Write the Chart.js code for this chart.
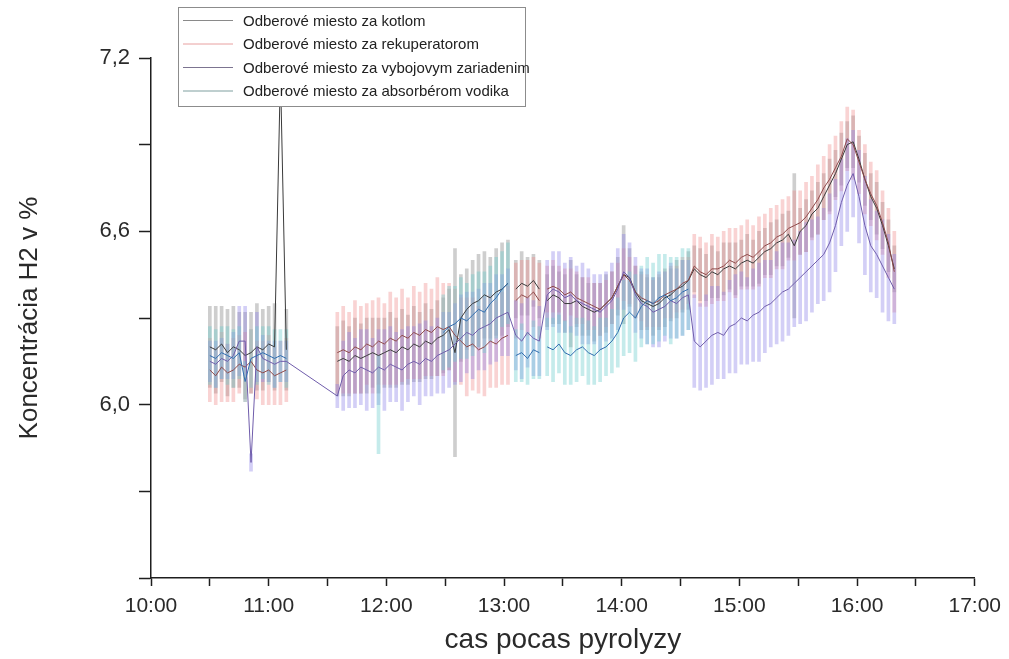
<!DOCTYPE html>
<html>
<head>
<meta charset="utf-8">
<script src="https://cdn.jsdelivr.net/npm/chart.js@4.4.1/dist/chart.umd.min.js"></script>
<style>
  body { margin: 0; background: #fff; }
  canvas { display: block; }
</style>
</head>
<body>
<canvas id="graph" width="1009" height="659"></canvas>
<script>
// cas merania (kazde 3 minuty, prazdne riadky = prerusenie merania)
const casy = [
  "10:30","10:33","10:36","10:39","10:42","10:45","10:48","10:51","10:54","10:57","11:00","11:03","11:06","11:09",
  "11:20",
  "11:35","11:38","11:41","11:44","11:47","11:50","11:53","11:56","11:59","12:02","12:05","12:08","12:11","12:14","12:17",
  "12:20","12:23","12:26","12:29","12:32","12:35","12:38","12:41","12:44","12:47","12:50","12:53","12:56","12:59","13:02",
  "13:04",
  "13:06","13:09","13:12","13:15","13:18",
  "13:20",
  "13:22","13:25","13:28","13:31","13:34","13:37","13:40","13:43","13:46","13:49","13:52","13:55","13:58",
  "14:01","14:04","14:07","14:10","14:13","14:16","14:19","14:22","14:25","14:28","14:31","14:34",
  "14:37","14:40","14:43","14:46","14:49","14:52","14:55","14:58",
  "15:01","15:04","15:07","15:10","15:13","15:16","15:19","15:22","15:25","15:28","15:31","15:34","15:37","15:40",
  "15:43","15:46","15:49","15:52","15:55","15:58",
  "16:01","16:04","16:07","16:10","16:13","16:16","16:19"
];

const kotlom = [
  6.20,6.19,6.21,6.18,6.20,6.19,6.17,6.18,6.20,6.19,6.21,6.20,7.15,6.19,
  null,
  6.15,6.16,6.15,6.17,6.16,6.17,6.18,6.17,6.18,6.19,6.18,6.20,6.19,6.21,6.20,
  6.22,6.21,6.23,6.24,6.26,6.18,6.30,6.33,6.35,6.36,6.38,6.37,6.39,6.40,6.42,
  null,
  6.40,6.42,6.41,6.43,6.40,
  null,
  6.36,6.38,6.37,6.35,6.35,6.36,6.34,6.33,6.32,6.33,6.35,6.37,6.41,
  6.45,6.44,6.39,6.36,6.35,6.34,6.35,6.37,6.38,6.40,6.41,6.43,
  6.47,6.45,6.44,6.46,6.45,6.47,6.48,6.47,
  6.49,6.50,6.49,6.51,6.53,6.54,6.56,6.57,6.59,6.55,6.60,6.62,6.66,6.68,
  6.72,6.76,6.80,6.85,6.90,6.91,
  6.85,6.78,6.72,6.68,6.62,6.55,6.47
];
const kotlomErr = [
  0.14,0.15,0.13,0.15,0.14,0.13,0.15,0.14,0.15,0.14,0.13,0.15,0.02,0.14,
  null,
  0.12,0.13,0.12,0.13,0.12,0.13,0.12,0.13,0.12,0.13,0.12,0.13,0.12,0.13,0.12,
  0.13,0.12,0.13,0.13,0.14,0.36,0.15,0.14,0.15,0.16,0.15,0.14,0.15,0.16,0.15,
  null,
  0.10,0.11,0.10,0.09,0.10,
  null,
  0.09,0.10,0.09,0.10,0.15,0.09,0.10,0.09,0.10,0.09,0.10,0.09,0.10,
  0.17,0.10,0.09,0.10,0.09,0.10,0.09,0.10,0.09,0.10,0.09,0.10,
  0.08,0.09,0.08,0.09,0.08,0.09,0.08,0.09,
  0.08,0.09,0.08,0.09,0.08,0.09,0.08,0.09,0.08,0.25,0.08,0.09,0.08,0.09,
  0.08,0.09,0.08,0.09,0.08,0.09,
  0.08,0.09,0.08,0.09,0.08,0.09,0.08
];

const rekuperator = [
  6.12,6.10,6.13,6.11,6.12,6.14,6.13,6.15,6.12,6.11,6.12,6.10,6.11,6.12,
  null,
  6.18,6.19,6.18,6.20,6.19,6.21,6.20,6.22,6.21,6.23,6.22,6.24,6.23,6.25,6.24,
  6.26,6.25,6.27,6.26,6.27,6.24,6.22,6.20,6.21,6.19,6.20,6.22,6.21,6.23,6.24,
  null,
  6.36,6.38,6.37,6.39,6.36,
  null,
  6.40,6.41,6.40,6.38,6.39,6.37,6.36,6.35,6.34,6.33,6.35,6.37,6.41,
  6.45,6.43,6.39,6.37,6.36,6.35,6.36,6.38,6.39,6.40,6.42,6.43,
  6.48,6.46,6.45,6.47,6.47,6.48,6.50,6.49,
  6.51,6.52,6.51,6.53,6.55,6.56,6.58,6.59,6.61,6.62,6.63,6.65,6.68,6.71,
  6.75,6.78,6.82,6.86,6.92,6.90,
  6.84,6.78,6.73,6.69,6.63,6.56,6.46
];
const rekuperatorErr = [
  0.11,0.10,0.12,0.10,0.11,0.10,0.12,0.11,0.10,0.11,0.12,0.10,0.11,0.11,
  null,
  0.14,0.15,0.14,0.16,0.15,0.14,0.16,0.15,0.14,0.16,0.15,0.16,0.14,0.16,0.15,
  0.16,0.15,0.17,0.16,0.15,0.16,0.15,0.17,0.16,0.15,0.17,0.16,0.15,0.16,0.17,
  null,
  0.13,0.12,0.13,0.12,0.13,
  null,
  0.08,0.09,0.08,0.09,0.08,0.09,0.08,0.09,0.08,0.09,0.08,0.09,0.08,
  0.09,0.08,0.09,0.08,0.09,0.08,0.09,0.08,0.09,0.08,0.09,0.08,
  0.11,0.12,0.11,0.12,0.11,0.12,0.11,0.12,
  0.11,0.12,0.11,0.12,0.11,0.12,0.11,0.12,0.11,0.12,0.11,0.12,0.11,0.12,
  0.11,0.12,0.11,0.12,0.11,0.12,
  0.11,0.12,0.11,0.12,0.11,0.12,0.14
];

const vyboj = [
  6.15,6.14,6.16,6.15,6.17,6.22,6.22,5.80,6.20,6.16,6.15,6.14,6.15,6.15,
  null,
  6.03,6.10,6.12,6.11,6.13,6.12,6.11,6.13,6.12,6.14,6.13,6.12,6.14,6.15,6.14,
  6.16,6.15,6.17,6.18,6.19,6.21,6.23,6.25,6.24,6.26,6.27,6.28,6.30,6.31,6.32,
  null,
  6.24,6.22,6.25,6.23,6.22,
  null,
  6.38,6.40,6.39,6.37,6.38,6.36,6.35,6.34,6.33,6.32,6.34,6.36,6.40,
  6.46,6.44,6.38,6.35,6.34,6.32,6.33,6.34,6.36,6.35,6.37,6.38,
  6.22,6.20,6.22,6.24,6.25,6.24,6.27,6.28,
  6.30,6.29,6.31,6.32,6.34,6.35,6.37,6.39,6.40,6.42,6.44,6.46,6.48,6.50,
  6.52,6.56,6.62,6.70,6.76,6.80,
  6.72,6.62,6.55,6.52,6.48,6.44,6.40
];
const vybojErr = [
  0.07,0.08,0.07,0.06,0.08,0.12,0.12,0.03,0.12,0.08,0.07,0.08,0.07,0.07,
  null,
  0.04,0.12,0.13,0.12,0.13,0.14,0.12,0.13,0.14,0.13,0.12,0.14,0.13,0.12,0.14,
  0.13,0.12,0.13,0.14,0.13,0.14,0.15,0.14,0.15,0.14,0.15,0.14,0.15,0.14,0.15,
  null,
  0.12,0.13,0.12,0.13,0.12,
  null,
  0.12,0.13,0.14,0.12,0.13,0.12,0.14,0.13,0.12,0.13,0.12,0.13,0.14,
  0.13,0.12,0.13,0.12,0.13,0.12,0.13,0.12,0.13,0.12,0.13,0.12,
  0.16,0.15,0.16,0.17,0.16,0.15,0.16,0.17,
  0.16,0.15,0.16,0.17,0.16,0.15,0.16,0.17,0.16,0.15,0.16,0.17,0.16,0.15,
  0.16,0.17,0.16,0.15,0.16,0.15,
  0.16,0.17,0.16,0.15,0.16,0.15,0.12
];

const absorber = [
  6.17,6.16,6.18,6.17,6.16,6.18,6.08,6.16,6.17,6.18,6.17,6.16,6.17,6.16,
  null,
  null,null,null,null,null,null,null,6.00,null,null,null,null,null,null,null,
  null,null,null,6.25,6.27,6.28,6.30,6.29,6.31,6.33,6.32,6.35,6.37,6.40,6.42,
  null,
  6.17,6.18,6.16,6.19,6.18,
  null,
  6.20,6.19,6.21,6.18,6.17,6.19,6.20,6.18,6.17,6.19,6.20,6.22,6.25,
  6.30,6.32,6.30,6.34,6.36,6.35,6.37,6.38,6.36,6.37,6.39,6.40,
  ...Array(35).fill(null)
];
const absorberErr = [
  0.10,0.10,0.09,0.10,0.10,0.09,0.07,0.10,0.10,0.09,0.10,0.10,0.09,0.10,
  null,
  null,null,null,null,null,null,null,0.17,null,null,null,null,null,null,null,
  null,null,null,0.13,0.14,0.13,0.14,0.13,0.14,0.13,0.14,0.13,0.14,0.13,0.14,
  null,
  0.09,0.10,0.09,0.10,0.09,
  null,
  0.10,0.11,0.10,0.11,0.10,0.11,0.10,0.11,0.10,0.11,0.10,0.11,0.12,
  0.13,0.14,0.15,0.14,0.15,0.14,0.15,0.14,0.15,0.14,0.15,0.14,
  ...Array(35).fill(null)
];

const serie = [
  { nazov: "Odberové miesto za kotlom", stred: kotlom, chyba: kotlomErr,
    ciara: "#3a3a3a", pas: "rgba(125,125,125,0.38)", legenda: "#8a8a8a", medzery: false },
  { nazov: "Odberové miesto za rekuperatorom", stred: rekuperator, chyba: rekuperatorErr,
    ciara: "#8e4848", pas: "rgba(238,140,140,0.38)", legenda: "#e8a0a0", medzery: false },
  { nazov: "Odberové miesto za vybojovym zariadenim", stred: vyboj, chyba: vybojErr,
    ciara: "#6f5cab", pas: "rgba(140,128,232,0.38)", legenda: "#7c7490", medzery: true },
  { nazov: "Odberové miesto za absorbérom vodika", stred: absorber, chyba: absorberErr,
    ciara: "#2f6cae", pas: "rgba(110,205,205,0.40)", legenda: "#7f9f9f", medzery: false }
];

const minuty = casy.map(t => {
  const [h, m] = t.split(":").map(Number);
  return h * 60 + m;
});

const pismo = "'Liberation Sans', Arial, sans-serif";
Chart.defaults.font.family = pismo;

const datasets = [];
serie.forEach((s, i) => {
  // chybove useky
  datasets.push({
    type: "bar",
    data: minuty
      .map((x, k) => s.stred[k] == null ? null : { x, y: [s.stred[k] - s.chyba[k], s.stred[k] + s.chyba[k]] })
      .filter(Boolean),
    backgroundColor: s.pas,
    borderWidth: 0,
    barThickness: 3,
    grouped: false,
    order: 13 - i
  });
  // priemerna hodnota
  datasets.push({
    type: "line",
    data: minuty.map((x, k) => ({ x, y: s.stred[k] })),
    borderColor: s.ciara,
    borderWidth: 1,
    pointRadius: 0,
    tension: 0,
    spanGaps: s.medzery,
    order: 3 - i
  });
});

// legenda v ramceku nad grafom
const legendaVnutri = {
  id: "legendaVnutri",
  afterDraw(chart) {
    const ctx = chart.ctx;
    ctx.save();
    ctx.fillStyle = "#fff";
    ctx.fillRect(178, 7, 347, 99);
    ctx.strokeStyle = "#8c8c8c";
    ctx.lineWidth = 1;
    ctx.strokeRect(178.5, 7.5, 347, 99);
    ctx.font = "15px " + pismo;
    ctx.textBaseline = "middle";
    serie.forEach((s, i) => {
      const y = 20.5 + i * 23.5;
      ctx.strokeStyle = s.legenda;
      ctx.beginPath();
      ctx.moveTo(183, y);
      ctx.lineTo(233, y);
      ctx.stroke();
      ctx.fillStyle = "#222";
      ctx.fillText(s.nazov, 243, y + 1);
    });
    ctx.restore();
  }
};

const graph = document.getElementById("graph").getContext("2d");
const myChart = new Chart(graph, {
  type: "line",
  data: { datasets },
  plugins: [legendaVnutri],
  options: {
    responsive: false,
    animation: false,
    layout: { padding: { top: 58, right: 34, bottom: 0, left: 0 } },
    plugins: {
      legend: { display: false },
      tooltip: { enabled: false }
    },
    scales: {
      x: {
        type: "linear",
        min: 600,
        max: 1020,
        offset: false,
        border: { color: "#1e1e1e", width: 1.5 },
        grid: { drawOnChartArea: false, offset: false, tickLength: 8, tickColor: "#1e1e1e", tickWidth: 1.5 },
        ticks: {
          stepSize: 30,
          autoSkip: false,
          maxRotation: 0,
          padding: 8,
          color: "#2a2a2a",
          font: { size: 21 },
          callback: v => (v % 60 === 0 ? v / 60 + ":00" : "")
        },
        title: {
          display: true,
          text: "cas pocas pyrolyzy",
          color: "#2a2a2a",
          font: { size: 28 },
          padding: { top: 0, bottom: 2 }
        },
        afterFit: s => { s.height = 81; }
      },
      y: {
        min: 5.4,
        max: 7.2,
        border: { color: "#1e1e1e", width: 1.5 },
        grid: { drawOnChartArea: false, tickLength: 12, tickColor: "#1e1e1e", tickWidth: 1.5 },
        ticks: {
          stepSize: 0.3,
          padding: 9,
          color: "#2a2a2a",
          font: { size: 22 },
          callback: v => {
            const r = Math.round(v * 10);
            return r % 6 === 0 && r > 54 ? (r / 10).toFixed(1).replace(".", ",") : "";
          }
        },
        title: {
          display: true,
          text: "Koncentrácia H2 v %",
          color: "#2a2a2a",
          font: { size: 26 },
          padding: { top: 14, bottom: 0 }
        },
        afterFit: s => { s.width = 151; }
      }
    }
  }
});
</script>
</body>
</html>
